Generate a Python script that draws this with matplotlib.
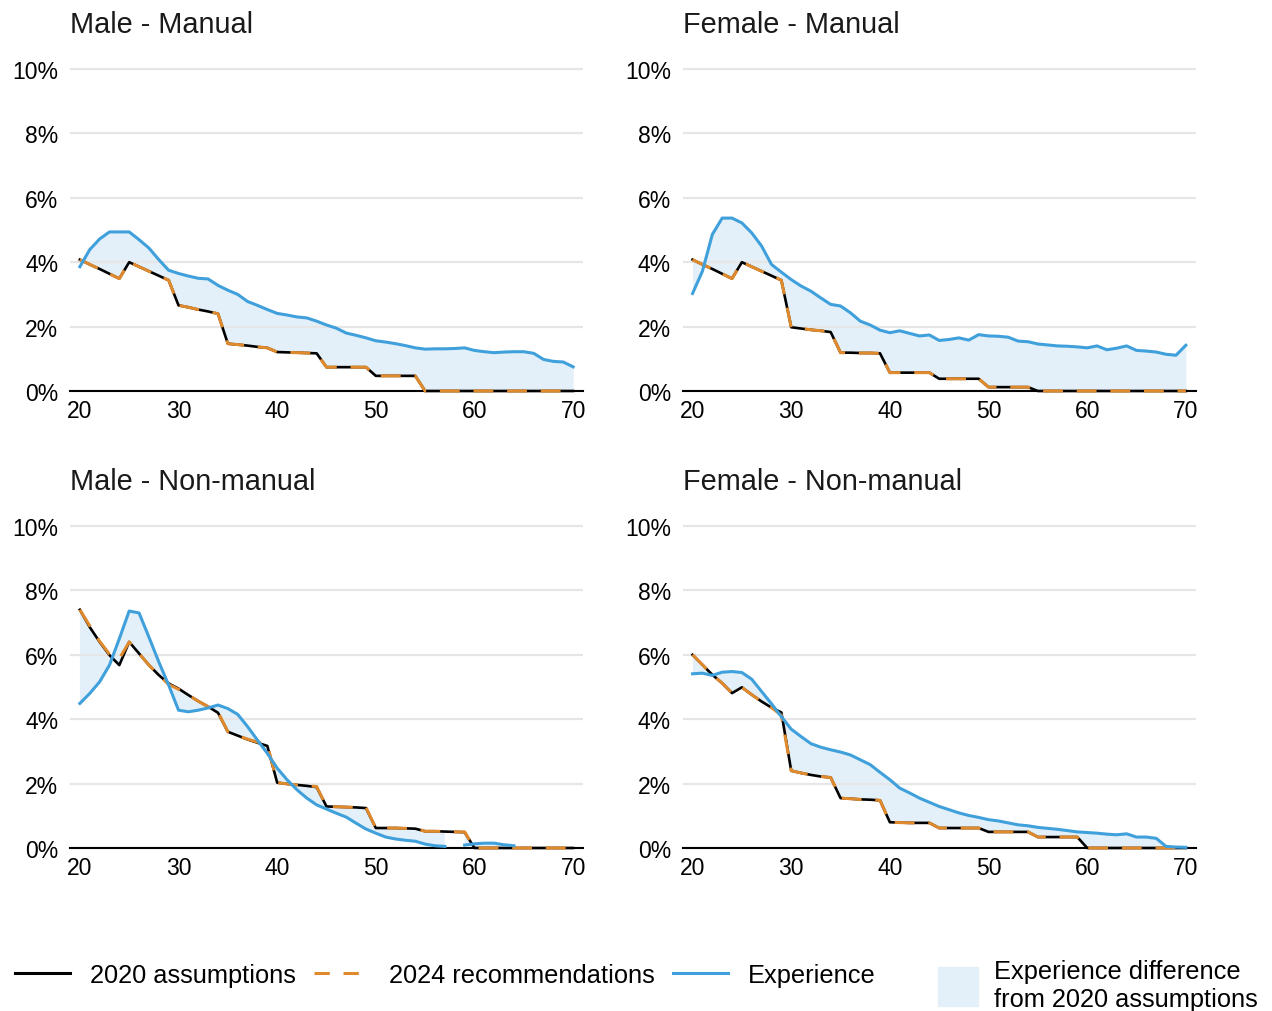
"""Withdrawal rates by age: 2020 assumptions vs 2024 recommendations vs experience, four panels."""
import numpy as np
import matplotlib
matplotlib.use("Agg")
import matplotlib.pyplot as plt
from matplotlib.lines import Line2D
from matplotlib.patches import Patch

plt.rcParams.update({"font.family": ["Liberation Sans", "DejaVu Sans"], "font.size": 16.5})
nan = np.nan

ages = list(range(20, 71))

# Male - Manual
mm_2020 = [4.08, 3.93, 3.79, 3.64, 3.49, 4.00, 3.86, 3.72, 3.58, 3.44,
           2.66, 2.60, 2.53, 2.47, 2.40, 1.47, 1.44, 1.41, 1.37, 1.34,
           1.21, 1.20, 1.19, 1.18, 1.17, 0.74, 0.74, 0.74, 0.74, 0.74,
           0.47, 0.47, 0.47, 0.47, 0.47] + [0.0] * 16
mm_2024 = list(mm_2020)
mm_exp = [3.86, 4.39, 4.72, 4.94, 4.94, 4.94, 4.70, 4.44, 4.08, 3.75,
          3.65, 3.57, 3.50, 3.48, 3.28, 3.13, 3.00, 2.78, 2.66, 2.53,
          2.41, 2.36, 2.30, 2.27, 2.17, 2.05, 1.95, 1.80, 1.73, 1.65,
          1.56, 1.52, 1.47, 1.41, 1.34, 1.30, 1.31, 1.31, 1.32, 1.34,
          1.26, 1.22, 1.19, 1.21, 1.22, 1.22, 1.17, 0.98, 0.92, 0.90,
          0.75]

# Female - Manual
fm_2020 = [4.08, 3.93, 3.79, 3.64, 3.49, 4.00, 3.86, 3.72, 3.58, 3.44,
           1.98, 1.94, 1.90, 1.87, 1.83, 1.19, 1.19, 1.18, 1.18, 1.17,
           0.57, 0.57, 0.57, 0.57, 0.57, 0.38, 0.38, 0.38, 0.38, 0.38,
           0.12, 0.12, 0.12, 0.12, 0.12] + [0.0] * 16
fm_2024 = list(fm_2020)
fm_exp = [3.03, 3.72, 4.86, 5.37, 5.37, 5.22, 4.91, 4.50, 3.93, 3.69,
          3.46, 3.26, 3.10, 2.89, 2.69, 2.64, 2.43, 2.17, 2.05, 1.89,
          1.81, 1.87, 1.79, 1.71, 1.74, 1.57, 1.60, 1.65, 1.58, 1.75,
          1.71, 1.70, 1.67, 1.55, 1.53, 1.46, 1.43, 1.40, 1.39, 1.37,
          1.34, 1.40, 1.28, 1.33, 1.40, 1.26, 1.24, 1.21, 1.14, 1.11,
          1.42]

# Male - Non-manual
mn_2020 = [7.40, 6.86, 6.40, 5.99, 5.68, 6.40, 6.04, 5.68, 5.37, 5.11,
           4.95, 4.75, 4.56, 4.39, 4.20, 3.61, 3.49, 3.37, 3.27, 3.17,
           2.03, 1.99, 1.96, 1.93, 1.89, 1.29, 1.28, 1.27, 1.26, 1.24,
           0.62, 0.62, 0.62, 0.61, 0.60, 0.52, 0.52, 0.51, 0.50, 0.49] + [0.0] * 11
mn_2024 = [7.40, 6.90, 6.42, 6.02, 5.88, 6.40, 6.04, 5.68, 5.37, 5.08,
           4.93, 4.75, 4.56, 4.39, 4.22, 3.61, 3.49, 3.38, 3.29, 3.22,
           2.03, 1.99, 1.96, 1.93, 1.91, 1.29, 1.28, 1.27, 1.26, 1.26,
           0.62, 0.62, 0.62, 0.61, 0.60, 0.52, 0.52, 0.51, 0.50, 0.50] + [0.0] * 11
mn_exp = [4.49, 4.80, 5.16, 5.68, 6.50, 7.36, 7.30, 6.55, 5.78, 5.06,
          4.28, 4.23, 4.28, 4.35, 4.44, 4.33, 4.15, 3.77, 3.35, 2.94,
          2.48, 2.12, 1.81, 1.55, 1.34, 1.21, 1.08, 0.96, 0.77, 0.59,
          0.46, 0.34, 0.28, 0.24, 0.21, 0.12, 0.07, 0.05, nan, 0.09,
          0.13, 0.15, 0.15, 0.10, 0.07, nan, nan, nan, nan, nan,
          nan]

# Female - Non-manual
fn_2020 = [6.00, 5.69, 5.38, 5.12, 4.81, 4.99, 4.76, 4.55, 4.36, 4.21,
           2.40, 2.33, 2.27, 2.22, 2.19, 1.55, 1.53, 1.51, 1.50, 1.48,
           0.80, 0.79, 0.78, 0.78, 0.78, 0.62, 0.62, 0.62, 0.62, 0.62,
           0.50, 0.50, 0.50, 0.50, 0.50, 0.34, 0.34, 0.34, 0.34, 0.34] + [0.0] * 11
fn_2024 = list(fn_2020)
fn_2024[9] = 4.12
fn_exp = [5.41, 5.43, 5.36, 5.46, 5.48, 5.45, 5.24, 4.86, 4.48, 4.08,
          3.69, 3.46, 3.24, 3.13, 3.05, 2.98, 2.89, 2.74, 2.59, 2.35,
          2.12, 1.86, 1.71, 1.55, 1.42, 1.29, 1.19, 1.09, 1.01, 0.95,
          0.88, 0.84, 0.78, 0.72, 0.69, 0.64, 0.61, 0.58, 0.54, 0.50,
          0.48, 0.46, 0.43, 0.41, 0.44, 0.34, 0.34, 0.30, 0.05, 0.03,
          0.02]

panels = [("Male - Manual", mm_2020, mm_2024, mm_exp),
          ("Female - Manual", fm_2020, fm_2024, fm_exp),
          ("Male - Non-manual", mn_2020, mn_2024, mn_exp),
          ("Female - Non-manual", fn_2020, fn_2024, fn_exp)]

BLACK, ORANGE, BLUE, FILL, GRID = "#000000", "#E08A2E", "#3FA0DB", "#E3F0F9", "#E6E6E6"

W, H = 1272, 1012
fig = plt.figure(figsize=(W / 100, H / 100), dpi=100)
lefts = [70 / W, 682.7 / W]
bottoms = [1 - 392 / H, 1 - 849 / H]
aw, ah = 513 / W, 323.6 / H

for i, (title, a20, a24, exp) in enumerate(panels):
    ax = fig.add_axes([lefts[i % 2], bottoms[i // 2], aw, ah])
    ax.fill_between(ages, a20, exp, color=FILL, lw=0, zorder=1)
    ax.plot(ages, a20, color=BLACK, lw=1.9, zorder=3, clip_on=False)
    ax.plot(ages, a24, color=ORANGE, lw=2.2, dashes=(6.5, 4.5), zorder=4, clip_on=False)
    ax.plot(ages, exp, color=BLUE, lw=2.2, zorder=5, clip_on=False)
    ax.set_xlim(19, 71); ax.set_ylim(0, 10.05)
    ax.set_xticks(range(20, 71, 10)); ax.set_yticks(range(0, 11, 2))
    ax.yaxis.set_major_formatter(lambda v, p: f"{v:.0f}%")
    ax.grid(axis="y", color=GRID, lw=1.6)
    for s in ("top", "left", "right"):
        ax.spines[s].set_visible(False)
    ax.spines["bottom"].set_linewidth(1.5)
    ax.tick_params(axis="both", length=0)
    ax.tick_params(axis="x", pad=6)
    ax.tick_params(axis="y", pad=8.5)
    ax.annotate(title, xy=(0, 1), xycoords="axes fraction", xytext=(0, 31.3), textcoords="offset points",
                ha="left", va="center", fontsize=20.8, color="#1a1a1a")

line_handles = [Line2D([], [], color=BLACK, lw=2.2),
                Line2D([], [], color=ORANGE, lw=2.2, dashes=(5, 4.5)),
                Line2D([], [], color=BLUE, lw=2.2)]
fig.legend(handles=line_handles, labels=["2020 assumptions", "2024 recommendations", "Experience"],
           loc="center left", bbox_to_anchor=(15 / W, 1 - 976 / H), ncol=3, frameon=False,
           fontsize=18.3, handlelength=2.15, handletextpad=0.8, columnspacing=0.72,
           borderpad=0, borderaxespad=0)
fig.legend(handles=[Patch(color=FILL)], labels=["Experience difference\nfrom 2020 assumptions"],
           loc="center left", bbox_to_anchor=(938 / W, 1 - 986 / H), frameon=False,
           fontsize=18.3, handlelength=1.56, handleheight=1.95, handletextpad=0.64,
           borderpad=0, borderaxespad=0, labelspacing=0)

plt.savefig("out.png", dpi=100)
